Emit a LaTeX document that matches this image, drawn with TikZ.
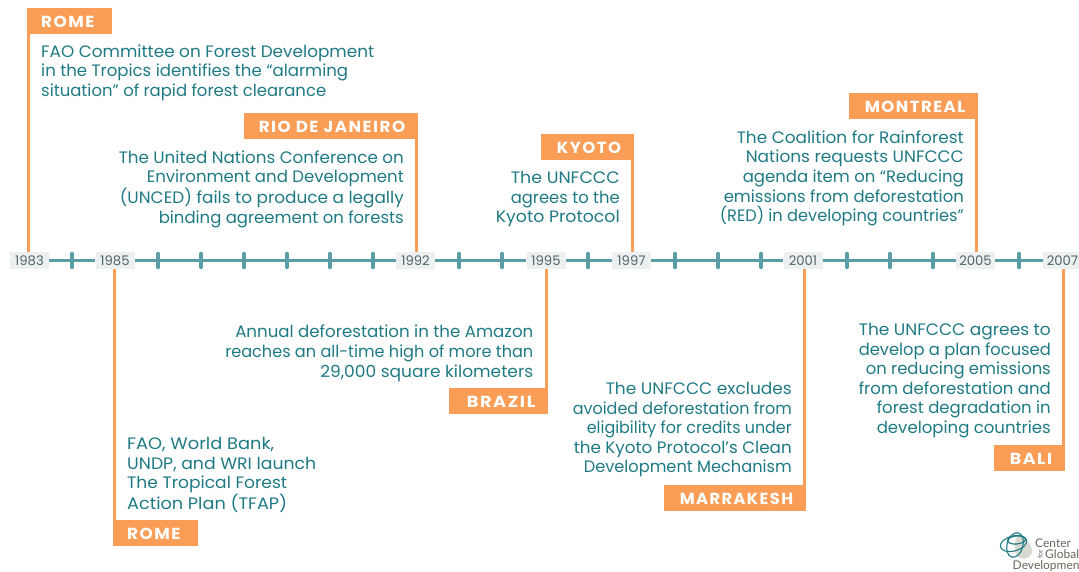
\documentclass[tikz,border=0pt]{standalone}
\usepackage{graphicx}
\usepackage{fontspec}
\setmainfont{Poppins}
\newfontfamily\logofont{Lato}
\definecolor{flagor}{HTML}{F99D57}
\definecolor{tealtx}{HTML}{1F7A84}
\definecolor{axisc}{HTML}{5A9DA5}
\definecolor{yearbg}{HTML}{ECF0F1}
\definecolor{yeartx}{HTML}{52656A}
\definecolor{logogr}{HTML}{6B655C}
\definecolor{logoblob}{HTML}{D9D9D4}
\newcommand\fw[2]{\resizebox{#1pt}{\height}{#2}}
\tikzset{
  flagbox/.style={fill=flagor,inner sep=0pt,minimum height=26pt},
  flagtext/.style={text=white,inner sep=0pt,font=\fontsize{16}{18}\selectfont\bfseries\addfontfeature{LetterSpace=9}},
  yearbox/.style={fill=yearbg,text=yeartx,inner sep=0pt,minimum height=17pt,minimum width=39pt,font=\fontsize{13.2}{15}\selectfont},
  stem/.style={draw=flagor,line width=3.4pt},
  axisline/.style={draw=axisc,line width=3.4pt},
  tickmark/.style={draw=axisc,line width=3.4pt,line cap=round},
  bodyl/.style={text=tealtx,inner sep=0pt,align=left,font=\fontsize{16.6}{19.6}\selectfont},
  bodyr/.style={text=tealtx,inner sep=0pt,align=right,font=\fontsize{16.6}{19.6}\selectfont},
  logotx/.style={text=logogr,inner sep=0pt,font=\logofont\fontsize{12}{12.5}\selectfont},
  logoring/.style={draw=tealtx,line width=1.1pt},
}
\begin{document}
\begin{tikzpicture}[x=1pt,y=-1pt]
\useasboundingbox (0,0) rectangle (1079,572);
% year labels
\foreach \n/\t/\xx in {y83/1983/29.5,y85/1985/115,y92/1992/415.5,y95/1995/546,y97/1997/631.5,y01/2001/803,y05/2005/975.5,y07/2007/1062.5}
  \node[yearbox] (\n) at (\xx,260.5) {\t};
% axis
\foreach \a/\b in {y83/y85,y85/y92,y92/y95,y95/y97,y97/y01,y01/y05,y05/y07}
  \draw[axisline] (\a) -- (\b);
\foreach \xx in {72,158,201,244,287,330,373,459,502,588,675,718,761,847,890,933,1019}
  \draw[tickmark] (\xx,253.5) -- (\xx,267.5);
% flags
\node[flagbox,anchor=north west,minimum width=85pt] (fa) at (27,8) {};
\node[flagbox,anchor=north west,minimum width=174pt] (fb) at (244,113) {};
\node[flagbox,anchor=north west,minimum width=93pt] (fc) at (541,134) {};
\node[flagbox,anchor=north west,minimum width=129pt] (fd) at (849,93) {};
\node[flagbox,anchor=north west,minimum width=85pt] (fe) at (113,520) {};
\node[flagbox,anchor=north west,minimum width=99pt] (ff) at (449,388) {};
\node[flagbox,anchor=north west,minimum width=142pt] (fg) at (664,485) {};
\node[flagbox,anchor=north west,minimum width=71pt] (fh) at (994,445) {};
% flag texts
\node[flagtext,anchor=west] (ta) at (41,21.7) {\fw{53.4}{ROME}};
\node[flagtext,anchor=east] (tb) at (405.4,126.7) {\fw{146.4}{RIO DE JANEIRO}};
\node[flagtext,anchor=east] (tc) at (621.4,147.7) {\fw{64.4}{KYOTO}};
\node[flagtext,anchor=east] (td) at (965.4,106.7) {\fw{100.4}{MONTREAL}};
\node[flagtext,anchor=west] (te) at (127,533.7) {\fw{53.4}{ROME}};
\node[flagtext,anchor=east] (tf) at (535.4,401.7) {\fw{68.4}{BRAZIL}};
\node[flagtext,anchor=east] (tg) at (793.4,498.7) {\fw{113.4}{MARRAKESH}};
\node[flagtext,anchor=east] (th) at (1052.4,458.7) {\fw{42.4}{BALI}};
% stems
\draw[stem] ([xshift=1.7pt]fa.north west) -- ([xshift=1.7pt]fa.north west |- y83.north);
\draw[stem] ([xshift=-1.7pt]fb.north east) -- ([xshift=-1.7pt]fb.north east |- y92.north);
\draw[stem] ([xshift=-1.7pt]fc.north east) -- ([xshift=-1.7pt]fc.north east |- y97.north);
\draw[stem] ([xshift=-1.7pt]fd.north east) -- ([xshift=-1.7pt]fd.north east |- y05.north);
\draw[stem] ([xshift=1.7pt]fe.south west) -- ([xshift=1.7pt]fe.south west |- y85.south);
\draw[stem] ([xshift=-1.7pt]ff.south east) -- ([xshift=-1.7pt]ff.south east |- y95.south);
\draw[stem] ([xshift=-1.7pt]fg.south east) -- ([xshift=-1.7pt]fg.south east |- y01.south);
\draw[stem] ([xshift=-1.7pt]fh.south east) -- ([xshift=-1.7pt]fh.south east |- y07.south);
% body texts
\node[bodyl,anchor=north west] (ba) at (41,44.5) {\fw{333}{FAO Committee on Forest Development}\\\fw{307}{in the Tropics identifies the “alarming}\\\fw{285}{situation” of rapid forest clearance}};
\node[bodyr,anchor=north east] (bb) at (404,150.5) {\fw{285}{The United Nations Conference on}\\\fw{257}{Environment and Development}\\\fw{284}{(UNCED) fails to produce a legally}\\\fw{245}{binding agreement on forests}};
\node[bodyr,anchor=north east] (bc) at (620,171) {\fw{109}{The UNFCCC}\\\fw{109}{agrees to the}\\\fw{124}{Kyoto Protocol}};
\node[bodyr,anchor=north east] (bd) at (964,130.5) {\fw{227}{The Coalition for Rainforest}\\\fw{218}{Nations requests UNFCCC}\\\fw{221}{agenda item on “Reducing}\\\fw{240}{emissions from deforestation}\\\fw{244}{(RED) in developing countries”}};
\node[bodyl,anchor=north west] (be) at (127,437) {\fw{147}{FAO, World Bank,}\\\fw{189}{UNDP, and WRI launch}\\\fw{160}{The Tropical Forest}\\\fw{160}{Action Plan (TFAP)}};
\node[bodyr,anchor=north east] (bf) at (533.5,325) {\fw{298}{Annual deforestation in the Amazon}\\\fw{308}{reaches an all-time high of more than}\\\fw{213}{29,000 square kilometers}};
\node[bodyr,anchor=north east] (bg) at (792,382) {\fw{186}{The UNFCCC excludes}\\\fw{219}{avoided deforestation from}\\\fw{205}{eligibility for credits under}\\\fw{218}{the Kyoto Protocol’s Clean}\\\fw{208}{Development Mechanism}};
\node[bodyr,anchor=north east] (bh) at (1051,323) {\fw{192}{The UNFCCC agrees to}\\\fw{192}{develop a plan focused}\\\fw{185}{on reducing emissions}\\\fw{192}{from deforestation and}\\\fw{174}{forest degradation in}\\\fw{174}{developing countries}};
% logo
\fill[logoblob] (1018,535) .. controls (1026,537) and (1033,546) .. (1032,553) .. controls (1029,560) and (1021,560) .. (1017,556) .. controls (1013,550) and (1014,542) .. (1018,535) -- cycle;
\draw[logoring] (1013.5,543.5) ellipse [x radius=13.5pt,y radius=7.5pt,rotate=15];
\draw[logoring] (1015,545) ellipse [x radius=8pt,y radius=12.5pt,rotate=-15];
\draw[logoring] (1016.5,540) ellipse [x radius=9pt,y radius=4pt,rotate=5];
\node[logotx,anchor=west] (l1) at (1035,543) {Center};
\node[logotx,anchor=center,font=\logofont\fontsize{7}{8}\selectfont,rotate=90] (l2) at (1040,554) {for};
\node[logotx,anchor=west] (l3) at (1045,554.5) {Global};
\node[logotx,anchor=west] (l4) at (1012.5,566.5) {Development};
\end{tikzpicture}
\end{document}
